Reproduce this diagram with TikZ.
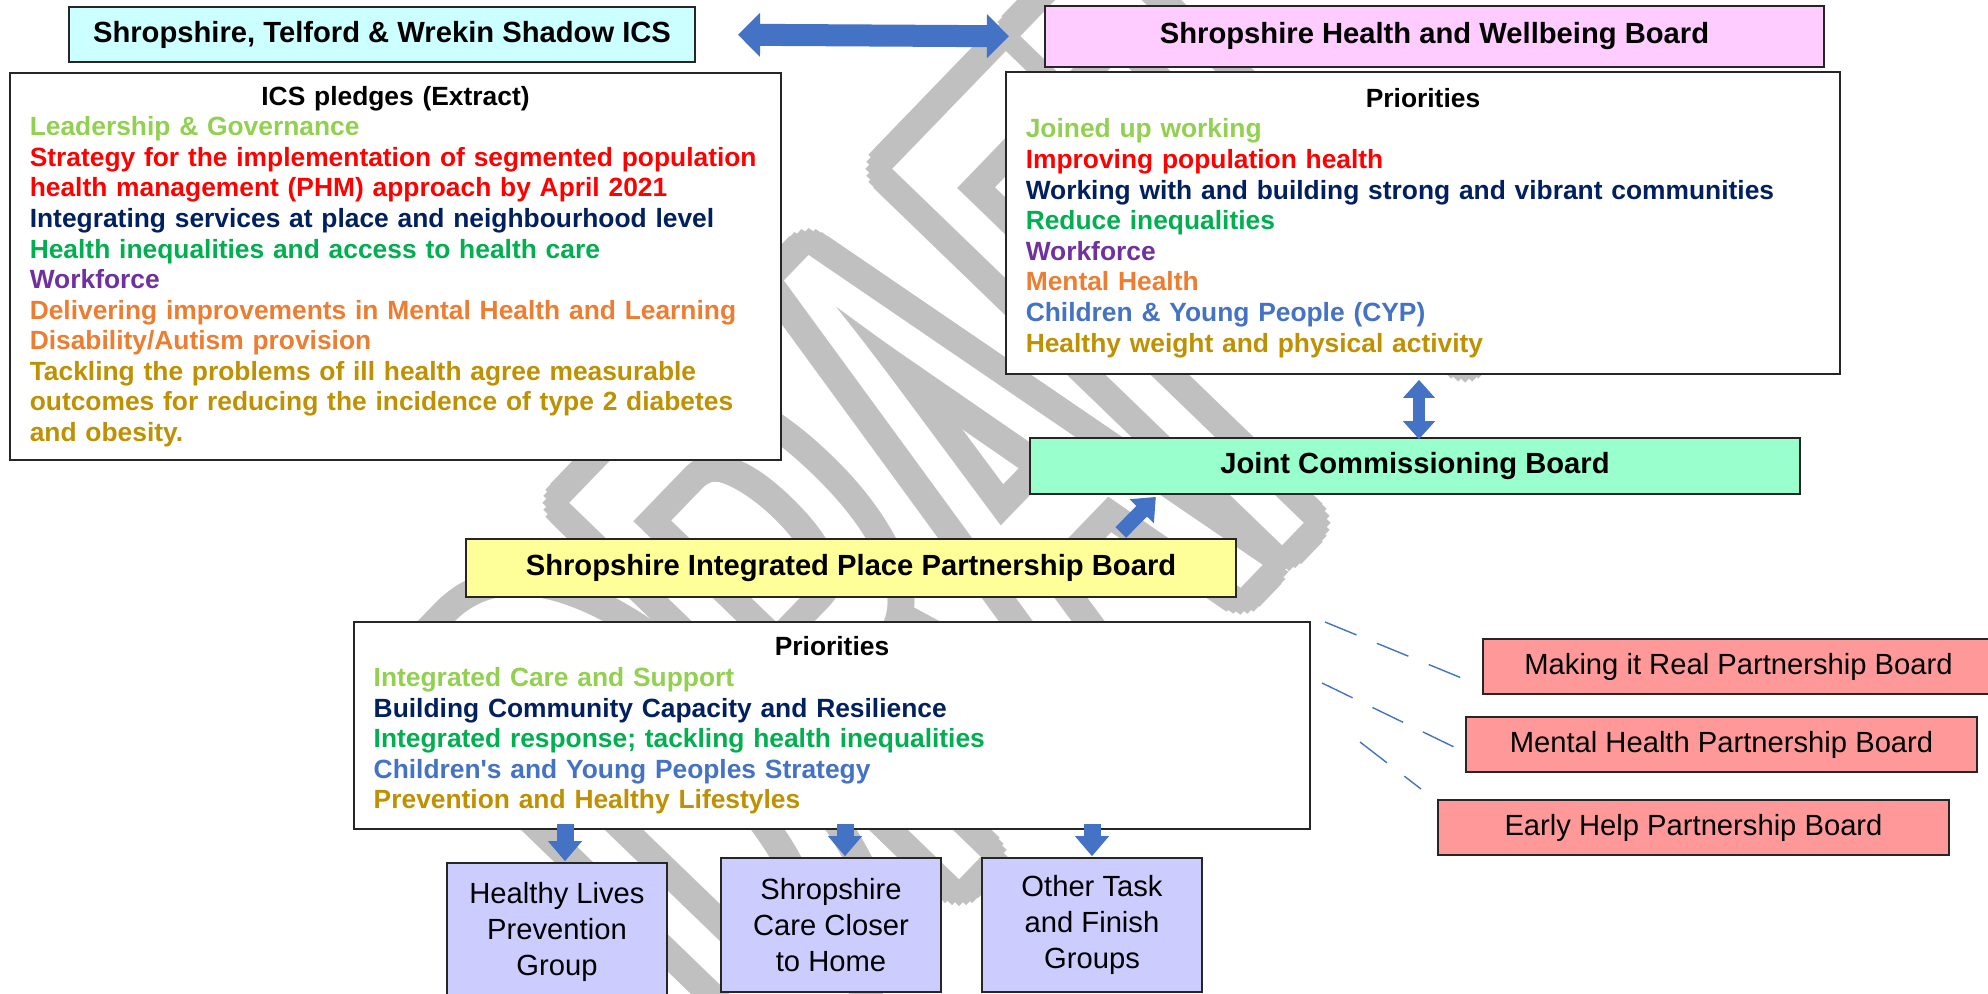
\documentclass[tikz,border=0pt]{standalone}
\usepackage{fontspec}
\setmainfont{Liberation Sans}
\usetikzlibrary{arrows.meta}

\definecolor{icsCyan}{HTML}{CCFFFF}
\definecolor{hwbPink}{HTML}{FFCCFF}
\definecolor{jcbMint}{HTML}{99FFCC}
\definecolor{ipbYellow}{HTML}{FFFF99}
\definecolor{grpLilac}{HTML}{CCCCFF}
\definecolor{pbRed}{HTML}{FF9999}
\definecolor{arrBlue}{HTML}{4472C4}
\definecolor{wmGray}{HTML}{C0C0C0}
\definecolor{cLime}{HTML}{92D050}
\definecolor{cRed}{HTML}{FF0000}
\definecolor{cNavy}{HTML}{002060}
\definecolor{cGreen}{HTML}{00B050}
\definecolor{cPurple}{HTML}{7030A0}
\definecolor{cOrange}{HTML}{ED7D31}
\definecolor{cBlue}{HTML}{4472C4}
\definecolor{cGold}{HTML}{BF9000}

\tikzset{
  box/.style={draw=black!85, line width=0.5pt, inner sep=0pt},
  hdr/.style={box, font=\fontsize{8.3}{10}\selectfont\bfseries},
  list/.style={inner sep=0pt, align=left, font=\fontsize{7.5}{8.7}\selectfont\bfseries},
  grp/.style={box, fill=grpLilac, align=center, minimum width=2.2cm, minimum height=1.34cm,
    font=\fontsize{8.3}{10.24}\selectfont},
  pb/.style={box, fill=pbRed, minimum width=5.11cm, minimum height=0.55cm, font=\fontsize{8.3}{10}\selectfont},
  wm/.style={inner sep=0pt, font=\fontsize{112}{112}\selectfont},
  wmframe/.style={shift={(965,484)}, rotate=46, xscale=0.85, yscale=2, transform shape},
  link/.style={draw=arrBlue, line width=0.4pt, dash pattern=on 0.34cm off 0.22cm},
  fat/.style={draw=arrBlue, line width=#1},
}

\begin{document}
\begin{tikzpicture}[x=0.01cm, y=-0.01cm]
\useasboundingbox (0,0) rectangle (1988,994);
\clip (0,0) rectangle (1988,994);

% watermark
\foreach \a [count=\i] in {0,15,...,345}{
  \begin{scope}[shift={(\a:27)}, wmframe]
    \node[wm, text=wmGray] (wm\i) at (0,0) {DRAFT};
  \end{scope}}
\begin{scope}[wmframe]
  \node[wm, text=white] (wm) at (0,0) {DRAFT};
\end{scope}

% top row
\node[hdr, fill=icsCyan, minimum width=6.26cm, minimum height=0.55cm] (ics) at (382,34.5)
  {Shropshire, Telford \& Wrekin Shadow ICS};
\node[hdr, fill=hwbPink, minimum width=7.79cm, minimum height=0.61cm] (hwb) at (1434.5,36.5)
  {Shropshire Health and Wellbeing Board};

\node[box, fill=white, minimum width=7.71cm, minimum height=3.87cm] (pledges) at (395.5,266.5) {};
\node[list, text width=7.31cm] (pledgesTxt) at (pledges.center) {%
  {\centering ICS pledges (Extract)\par}
  \textcolor{cLime}{Leadership \& Governance}\\
  \textcolor{cRed}{Strategy for the implementation of segmented population\\
    health management (PHM) approach by April 2021}\\
  \textcolor{cNavy}{Integrating services at place and neighbourhood level}\\
  \textcolor{cGreen}{Health inequalities and access to health care}\\
  \textcolor{cPurple}{Workforce}\\
  \textcolor{cOrange}{Delivering improvements in Mental Health and Learning\\
    Disability/Autism provision}\\
  \textcolor{cGold}{Tackling the problems of ill health agree measurable\\
    outcomes for reducing the incidence of type 2 diabetes\\
    and obesity.}};

\node[box, fill=white, minimum width=8.34cm, minimum height=3.02cm] (hwbPri) at (1423,223) {};
\node[list, text width=7.94cm] (hwbPriTxt) at (hwbPri.center) {%
  {\centering Priorities\par}
  \textcolor{cLime}{Joined up working}\\
  \textcolor{cRed}{Improving population health}\\
  \textcolor{cNavy}{Working with and building strong and vibrant communities}\\
  \textcolor{cGreen}{Reduce inequalities}\\
  \textcolor{cPurple}{Workforce}\\
  \textcolor{cOrange}{Mental Health}\\
  \textcolor{cBlue}{Children \& Young People (CYP)}\\
  \textcolor{cGold}{Healthy weight and physical activity}};

\node[hdr, fill=jcbMint, minimum width=7.7cm, minimum height=0.56cm] (jcb) at (1415,466)
  {Joint Commissioning Board};
\node[hdr, fill=ipbYellow, minimum width=7.7cm, minimum height=0.58cm] (ipb) at (851,568)
  {Shropshire Integrated Place Partnership Board};

\node[box, fill=white, minimum width=9.56cm, minimum height=2.07cm] (ipbPri) at (832,725.5) {};
\node[list, text width=9.16cm] (ipbPriTxt) at (ipbPri.center) {%
  {\centering Priorities\par}
  \textcolor{cLime}{Integrated Care and Support}\\
  \textcolor{cNavy}{Building Community Capacity and Resilience}\\
  \textcolor{cGreen}{Integrated response; tackling health inequalities}\\
  \textcolor{cBlue}{Children\textquotesingle s and Young Peoples Strategy}\\
  \textcolor{cGold}{Prevention and Healthy Lifestyles}};

% groups
\node[grp, minimum height=1.37cm] (grp1) at (557,931.5) {Healthy Lives\\Prevention\\Group};
\node[grp] (grp2) at (831,925) {Shropshire\\Care Closer\\to Home};
\node[grp] (grp3) at (1092,925) {Other Task\\and Finish\\Groups};

% partnership boards
\node[pb] (mir) at (1738.5,666.5) {Making it Real Partnership Board};
\node[pb] (mhp) at (1721.5,744.5) {Mental Health Partnership Board};
\node[pb] (ehp) at (1693.5,827.5) {Early Help Partnership Board};

\coordinate (d1) at (1325,622); \coordinate (e1) at (1464,679);
\coordinate (d2) at (1322,683); \coordinate (e2) at (1454,747);
\coordinate (d3) at (1360,742); \coordinate (e3) at (1421,789);
\draw[link] (d1) -- (e1);
\draw[link] (d2) -- (e2);
\draw[link] (d3) -- (e3);

% block arrows
\draw[fat=0.22cm, {Triangle[length=0.22cm,width=0.44cm,line width=0.3pt]}-{Triangle[length=0.22cm,width=0.44cm,line width=0.3pt]},
  shorten <=0.42cm, shorten >=0.35cm] (ics.east) -- (hwb.west);
\draw[fat=0.12cm, {Triangle[length=0.18cm,width=0.32cm,line width=0.3pt]}-{Triangle[length=0.18cm,width=0.32cm,line width=0.3pt]},
  shorten <=0.05cm, shorten >=-0.02cm] ([xshift=0.04cm]jcb.north |- hwbPri.south) -- ([xshift=0.04cm]jcb.north);
\draw[fat=0.15cm, -{Triangle[length=0.2cm,width=0.34cm,line width=0.3pt]},
  shorten <=0.08cm, shorten >=0.03cm] ([xshift=2.64cm]ipb.north) -- ([xshift=-2.57cm]jcb.south);
\foreach \n/\dx in {1/0.08,2/0.14,3/0}
  \draw[fat=0.17cm, -{Triangle[length=0.2cm,width=0.34cm,line width=0.3pt]},
    shorten <=-0.06cm, shorten >=0.01cm] ([xshift=\dx cm]grp\n.north |- ipbPri.south) -- ([xshift=\dx cm]grp\n.north);
\end{tikzpicture}
\end{document}
